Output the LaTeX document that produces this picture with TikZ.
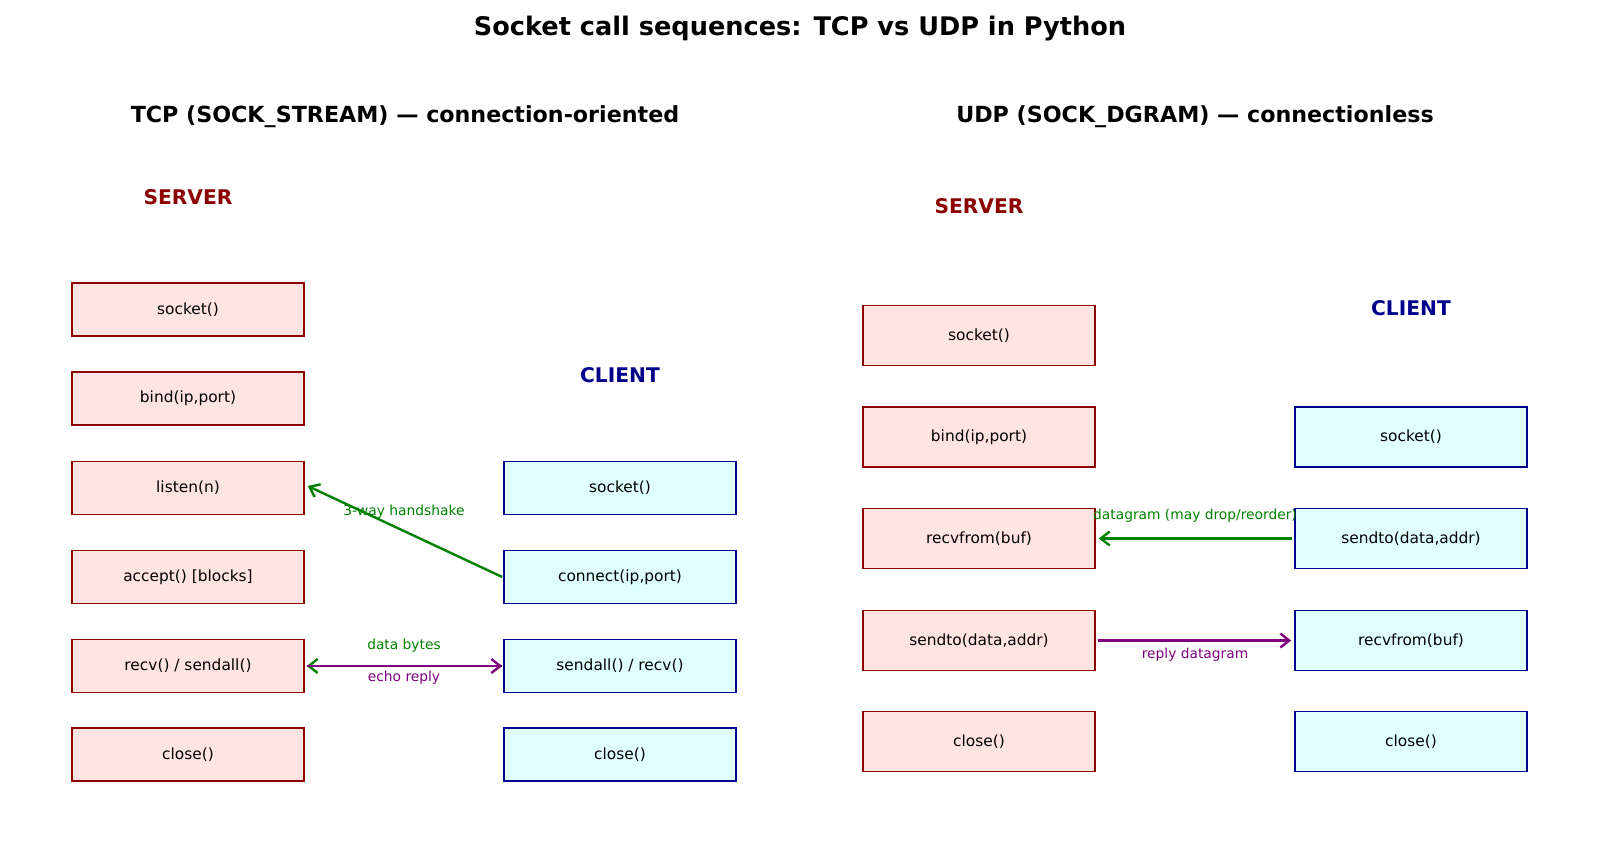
\documentclass[tikz,border=0pt]{standalone}
\usepackage{fontspec}
\setmainfont{DejaVu Sans}
\usetikzlibrary{arrows.meta}
\definecolor{srvfill}{HTML}{FFE4E1}
\definecolor{srvedge}{HTML}{8B0000}
\definecolor{clifill}{HTML}{E0FFFF}
\definecolor{cliedge}{HTML}{00008B}
\definecolor{agreen}{HTML}{008000}
\definecolor{apurple}{HTML}{800080}
\tikzset{
  srvbox/.style={draw=srvedge, fill=srvfill, line width=0.75pt, minimum width=116pt, inner sep=0pt, font=\fontsize{7.7pt}{9pt}\selectfont},
  clibox/.style={draw=cliedge, fill=clifill, line width=0.75pt, minimum width=116pt, inner sep=0pt, font=\fontsize{7.7pt}{9pt}\selectfont},
  tcpbox/.style={minimum height=26.5pt},
  udpbox/.style={minimum height=30.2pt},
  maintitle/.style={font=\bfseries\fontsize{12.8pt}{15pt}\selectfont},
  subtitle/.style={font=\bfseries\fontsize{11.1pt}{13pt}\selectfont},
  srvlabel/.style={font=\bfseries\fontsize{10.1pt}{12pt}\selectfont, text=srvedge},
  clilabel/.style={font=\bfseries\fontsize{10.1pt}{12pt}\selectfont, text=cliedge},
  arrlabel/.style={font=\fontsize{6.9pt}{8pt}\selectfont, inner sep=0pt},
  garrow/.style={draw=agreen, line width=1.2pt, -{Straight Barb[length=4.5pt,width=7pt]}},
  parrow/.style={draw=apurple, line width=1.2pt, -{Straight Barb[length=4.5pt,width=7pt]}},
}
\begin{document}
\begin{tikzpicture}[x=0.5pt,y=-0.5pt]
\useasboundingbox (0,0) rectangle (1600,862);
\node[maintitle] (title) at (800,29) {Socket call sequences: TCP vs UDP in Python};
\node[subtitle] (tcptitle) at (405,116.5) {TCP (SOCK\_STREAM) — connection-oriented};
\node[subtitle] (udptitle) at (1195,116.5) {UDP (SOCK\_DGRAM) — connectionless};

% TCP server
\node[srvlabel] (tsl) at (188,197.5) {SERVER};
\node[srvbox,tcpbox] (ts1) at (188,309.5) {socket()};
\node[srvbox,tcpbox] (ts2) at (188,398.5) {bind(ip,port)};
\node[srvbox,tcpbox] (ts3) at (188,488) {listen(n)};
\node[srvbox,tcpbox] (ts4) at (188,577) {accept() [blocks]};
\node[srvbox,tcpbox] (ts5) at (188,666) {recv() / sendall()};
\node[srvbox,tcpbox] (ts6) at (188,754.5) {close()};
% TCP client
\node[clilabel] (tcl) at (620,375) {CLIENT};
\node[clibox,tcpbox] (tc1) at (620,488) {socket()};
\node[clibox,tcpbox] (tc2) at (620,577) {connect(ip,port)};
\node[clibox,tcpbox] (tc3) at (620,666) {sendall() / recv()};
\node[clibox,tcpbox] (tc4) at (620,754.5) {close()};

\draw[garrow] ([xshift=-0.5pt]tc2.west) -- ([xshift=1.5pt,yshift=1pt]ts3.east);
\node[arrlabel,text=agreen] (hs) at (404,512) {3-way handshake};
\draw[garrow] ([xshift=-0.5pt]tc3.west) -- ([xshift=1pt]ts5.east);
\draw[parrow] ([xshift=1pt]ts5.east) -- ([xshift=-0.5pt]tc3.west);
\node[arrlabel,text=agreen] (db) at (404,646) {data bytes};
\node[arrlabel,text=apurple] (er) at (404,678) {echo reply};

% UDP server
\node[srvlabel] (usl) at (979,206.5) {SERVER};
\node[srvbox,udpbox] (us1) at (979,335.5) {socket()};
\node[srvbox,udpbox] (us2) at (979,437) {bind(ip,port)};
\node[srvbox,udpbox] (us3) at (979,538.5) {recvfrom(buf)};
\node[srvbox,udpbox] (us4) at (979,640.5) {sendto(data,addr)};
\node[srvbox,udpbox] (us5) at (979,741.5) {close()};
% UDP client
\node[clilabel] (ucl) at (1411,308.5) {CLIENT};
\node[clibox,udpbox] (uc1) at (1411,437) {socket()};
\node[clibox,udpbox] (uc2) at (1411,538.5) {sendto(data,addr)};
\node[clibox,udpbox] (uc3) at (1411,640.5) {recvfrom(buf)};
\node[clibox,udpbox] (uc4) at (1411,741.5) {close()};

\draw[garrow] ([xshift=-1pt]uc2.west) -- ([xshift=1.5pt]us3.east);
\node[arrlabel,text=agreen] (dg) at (1195,516) {datagram (may drop/reorder)};
\draw[parrow] ([xshift=1pt]us4.east) -- ([xshift=-1.5pt]uc3.west);
\node[arrlabel,text=apurple] (rd) at (1195,654.5) {reply datagram};
\end{tikzpicture}
\end{document}
